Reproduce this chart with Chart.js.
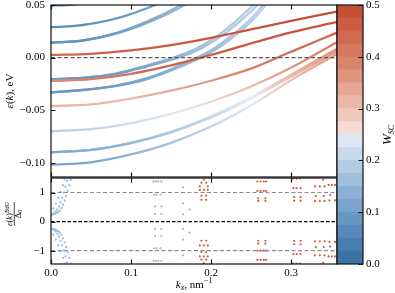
<!DOCTYPE html>
<html><head><meta charset="utf-8">
<script src="https://cdn.jsdelivr.net/npm/chart.js@4.4.1/dist/chart.umd.min.js"></script>
<style>
html,body{margin:0;padding:0;background:#fff;width:395px;height:293px;overflow:hidden}
canvas{position:absolute}
#top{left:0;top:0;width:345px;height:180px}
#bot{left:0;top:170px;width:345px;height:123px}
#cbar{left:330px;top:0;width:65px;height:293px}
</style></head><body>
<canvas id="top" width="345" height="180"></canvas>
<canvas id="bot" width="345" height="123"></canvas>
<canvas id="cbar" width="65" height="293"></canvas>
<script>
// ---------------- data ----------------
const kxRange = [0, 0.3575];
const energyRange = [-0.1135, 0.05];
const bdgRange = [-1.46, 1.5];
const energyTicks = [-0.10, -0.05, 0.00, 0.05];
const kxTicks = [0.0, 0.1, 0.2, 0.3];
const bdgTicks = [-1, 0, 1];
const wscTicks = [0.0, 0.1, 0.2, 0.3, 0.4, 0.5];
const fermiLevel = [0];
const gapLevels = [-1, 1];

// slowly dispersing (superconductor-like) bands on a common kx grid
const kGrid   = [0, 0.05, 0.10, 0.15, 0.20, 0.25, 0.30, 0.3575];
const bandD_E = [0.0026, 0.0036, 0.0068, 0.0118, 0.0188, 0.0268, 0.0348, 0.0438];
const bandD_W = [0.43, 0.45, 0.46, 0.47, 0.48, 0.48, 0.49, 0.49];
const bandE_E = [-0.0222, -0.0205, -0.0155, -0.0075, 0.0025, 0.0135, 0.0240, 0.0340];
const bandE_W = [0.37, 0.40, 0.43, 0.45, 0.46, 0.47, 0.48, 0.48];
const bandF_E = [-0.0460, -0.0445, -0.0390, -0.0315, -0.0220, -0.0105, 0.0055, 0.0237];
const bandF_W = [0.32, 0.31, 0.31, 0.33, 0.36, 0.40, 0.43, 0.45];
const bandG_E = [-0.0700, -0.0680, -0.0622, -0.0534, -0.0420, -0.0275, -0.0097, 0.0147];
const bandG_W = [0.19, 0.20, 0.22, 0.24, 0.27, 0.31, 0.36, 0.41];
const bandH_E = [-0.0900, -0.0877, -0.0810, -0.0706, -0.0560, -0.0375, -0.0162, 0.0083];
const bandH_W = [0.12, 0.13, 0.15, 0.18, 0.21, 0.25, 0.31, 0.37];
const bandH2_E = [-0.0900, -0.0878, -0.0813, -0.0712, -0.0570, -0.0390, -0.0180, 0.0060];
const bandI_E = [-0.1020, -0.0995, -0.0920, -0.0810, -0.0655, -0.0455, -0.0215, 0.0035];
const bandI_W = [0.11, 0.12, 0.14, 0.17, 0.20, 0.24, 0.30, 0.36];

// steep (semiconductor-like) bands
const bandB0_k = [0, 0.02, 0.04, 0.06];
const bandB0_E = [0.0495, 0.0500, 0.0515, 0.0540];
const bandB0_W = [0.07, 0.07, 0.08, 0.08];
const bandB1_k = [0, 0.03, 0.06, 0.09, 0.12, 0.15];
const bandB1_E = [0.0290, 0.0301, 0.0335, 0.0390, 0.0469, 0.0569];
const bandB1_W = [0.07, 0.07, 0.08, 0.09, 0.10, 0.12];
const bandB2_k = [0, 0.04, 0.08, 0.12, 0.16, 0.20];
const bandB2_E = [0.0141, 0.0162, 0.0225, 0.0330, 0.0470, 0.0650];
const bandB2b_E = [0.0141, 0.0163, 0.0230, 0.0342, 0.0490, 0.0680];
const bandB2_W = [0.08, 0.08, 0.10, 0.12, 0.15, 0.17];
const bandB3_k = [0, 0.04, 0.08, 0.12, 0.15, 0.18, 0.20, 0.22, 0.25, 0.27, 0.285];
const bandB3_E = [-0.0205, -0.0193, -0.0158, -0.0085, -0.0022, 0.0058, 0.0140, 0.0245, 0.0440, 0.0590, 0.0710];
const bandB3b_E = [-0.0205, -0.0192, -0.0154, -0.0076, -0.0008, 0.0078, 0.0165, 0.0275, 0.0480, 0.0640, 0.0760];
const bandB3_W = [0.09, 0.09, 0.10, 0.12, 0.14, 0.16, 0.17, 0.18, 0.19, 0.20, 0.20];
const bandB4_k = [0, 0.04, 0.08, 0.12, 0.16, 0.20, 0.23, 0.255, 0.275, 0.29];
const bandB4_E = [-0.0330, -0.0308, -0.0272, -0.0205, -0.0092, 0.0050, 0.0210, 0.0380, 0.0560, 0.0700];
const bandB4b_E = [-0.0330, -0.0307, -0.0268, -0.0196, -0.0078, 0.0070, 0.0235, 0.0410, 0.0600, 0.0740];
const bandB4_W = [0.09, 0.09, 0.10, 0.12, 0.14, 0.16, 0.18, 0.19, 0.20, 0.20];

// BdG spectrum points (lower panel)
const bdgBlueK = [
 0.001,0.003,0.005,0.007,0.009,0.011,0.013,0.015,0.017,0.019,0.021,0.023,0.025,
 0.002,0.004,0.006,0.008,0.010,0.012,0.014,0.016,0.018,0.020,
 0.003,0.006,0.009,0.012,0.015,0.017,
 0.001,0.003,0.005,0.007,0.009,0.011,0.013,0.015,0.017,0.019,0.021,0.023,0.025,
 0.002,0.004,0.006,0.008,0.010,0.012,0.014,0.016,0.018,0.020,
 0.003,0.006,0.009,0.012,0.015,0.017,
 0.128,0.131,0.134,0.138, 0.129,0.132,0.137, 0.130,0.138, 0.130,0.138,
 0.130,0.138, 0.130,0.138, 0.129,0.132,0.137, 0.128,0.131,0.134,0.138,
 0.165,0.165,0.173,0.165, 0.165,0.173,0.165,0.165
];
const bdgBlueV = [
 0.24,0.25,0.27,0.30,0.33,0.38,0.46,0.58,0.72,0.88,1.06,1.25,1.44,
 0.26,0.29,0.34,0.42,0.52,0.66,0.82,1.00,1.20,1.40,
 0.45,0.62,0.82,1.02,1.25,1.45,
 -0.24,-0.25,-0.27,-0.30,-0.33,-0.38,-0.46,-0.58,-0.72,-0.88,-1.06,-1.25,-1.44,
 -0.26,-0.29,-0.34,-0.42,-0.52,-0.66,-0.82,-1.00,-1.20,-1.40,
 -0.45,-0.62,-0.82,-1.02,-1.25,-1.45,
 1.38,1.38,1.38,1.38, 0.93,0.93,0.93, 0.52,0.52, 0.26,0.26,
 -0.25,-0.25, -0.50,-0.50, -0.92,-0.92,-0.92, -1.35,-1.35,-1.35,-1.35,
 1.18,0.63,0.41,0.25, -0.25,-0.38,-0.62,-1.16
];
const bdgRedK = [
 0.191,0.188,0.194,0.186,0.196,0.186,0.191,0.196,0.188,0.194,0.188,0.194,
 0.188,0.194,0.186,0.191,0.196,0.188,0.194,0.186,0.191,0.196,0.188,0.194,0.191,
 0.258,0.262,0.266,0.269,0.258,0.262,0.266,0.269,0.259,0.268,0.259,0.268,
 0.259,0.268,0.259,0.268,0.258,0.262,0.266,0.269,0.258,0.262,0.266,0.269,
 0.303,0.307,0.311,0.303,0.307,0.312,0.304,0.312,0.304,0.312,
 0.304,0.312,0.304,0.312,0.303,0.307,0.312,0.303,0.307,0.311,
 0.340,0.330,0.336,0.342,0.331,0.341,0.330,0.336,0.342,
 0.330,0.336,0.342,0.331,0.341,0.330,0.336,0.342,0.340,
 0.347,0.351,0.355,0.349,0.348,0.355,
 0.348,0.355,0.349,0.347,0.351,0.355
];
const bdgRedV = [
 1.44,1.34,1.34,1.21,1.21,1.09,1.09,1.09,0.89,0.89,0.75,0.75,
 -0.66,-0.66,-0.82,-0.82,-0.82,-1.05,-1.05,-1.20,-1.20,-1.20,-1.31,-1.31,-1.43,
 1.38,1.38,1.38,1.38,1.05,1.05,1.05,1.05,0.80,0.80,0.71,0.71,
 -0.66,-0.66,-0.76,-0.76,-1.00,-1.00,-1.00,-1.00,-1.32,-1.32,-1.32,-1.32,
 1.48,1.48,1.48,1.15,1.15,1.15,0.85,0.85,0.72,0.72,
 -0.66,-0.66,-0.78,-0.78,-1.12,-1.12,-1.12,-1.45,-1.45,-1.45,
 1.44,1.21,1.21,1.21,0.88,0.88,0.71,0.71,0.71,
 -0.68,-0.68,-0.68,-0.88,-0.88,-1.16,-1.16,-1.16,-1.42,
 1.26,1.26,1.26,0.92,0.73,0.73,
 -0.70,-0.70,-0.86,-1.20,-1.20,-1.20
];
const bdgBlueW = 0.16;
const bdgRedW = 0.46;

// ---------------- colormap (W_SC) ----------------
const cmapStops = [
 [0.00,[56,108,160]],[0.05,[80,131,180]],[0.10,[112,157,200]],[0.15,[150,184,216]],
 [0.20,[190,211,230]],[0.25,[232,238,244]],[0.255,[245,226,220]],[0.30,[236,192,178]],
 [0.35,[226,157,137]],[0.40,[215,124,101]],[0.45,[205,99,73]],[0.50,[194,74,48]]
];
function cmap(w){
  w = Math.max(0, Math.min(0.5, w));
  for (let i=0;i<cmapStops.length-1;i++){
    const [a,ca]=cmapStops[i],[b,cb]=cmapStops[i+1];
    if (w<=b){const t=(w-a)/(b-a);const c=ca.map((v,j)=>Math.round(v+(cb[j]-v)*t));return `rgb(${c[0]},${c[1]},${c[2]})`;}
  }
  const c=cmapStops[cmapStops.length-1][1];return `rgb(${c[0]},${c[1]},${c[2]})`;
}

const SERIF = '"Liberation Serif", "DejaVu Serif", serif';
Chart.defaults.font.family = SERIF;
Chart.defaults.font.size = 11;
Chart.defaults.color = '#000';

function fmtMinus(s){ return s.replace('-', '\u2212'); }
function noPad(s){ s.paddingTop=0; s.paddingBottom=0; s.paddingLeft=0; s.paddingRight=0; }

function bandDataset(ks, Es, Ws){
  return {
    type:'line',
    data: ks.map((k,i)=>({x:k, y:Es[i]})),
    borderWidth: 2.3,
    pointRadius: 0,
    cubicInterpolationMode: 'monotone',
    borderColor: cmap(Ws[0]),
    segment: {
      borderColor: (ctx)=>{
        const c0 = cmap(Ws[ctx.p0DataIndex]), c1 = cmap(Ws[ctx.p1DataIndex]);
        const g = ctx.chart.ctx.createLinearGradient(ctx.p0.x, ctx.p0.y, ctx.p1.x, ctx.p1.y);
        g.addColorStop(0, c0); g.addColorStop(1, c1);
        return g;
      }
    }
  };
}
function levelDataset(level, color, dash, width){
  return {type:'line', data: kxRange.map(k=>({x:k, y:level})), borderColor:color, borderDash:dash,
          borderWidth:width, pointRadius:0, order:-1};
}

// ---------------- plugins ----------------
const frameTicks = {
  id:'frameTicks',
  afterDatasetsDraw(chart, args, opts){
    const {ctx, chartArea:a} = chart;
    ctx.save();
    ctx.strokeStyle = '#111'; ctx.lineWidth = 1.2;
    ctx.strokeRect(a.left, a.top, a.right-a.left, a.bottom-a.top);
    const L = 4.5;
    ctx.beginPath();
    (opts.x||[]).forEach(v=>{
      const px = Math.round(chart.scales.x.getPixelForValue(v))+0.5;
      ctx.moveTo(px,a.bottom); ctx.lineTo(px,a.bottom-L);
      ctx.moveTo(px,a.top); ctx.lineTo(px,a.top+L);
    });
    (opts.y||[]).forEach(v=>{
      const py = Math.round(chart.scales.y.getPixelForValue(v))+0.5;
      if (opts.side==='right'){ ctx.moveTo(a.right,py); ctx.lineTo(a.right-L,py); }
      else { ctx.moveTo(a.left,py); ctx.lineTo(a.left+L,py); }
    });
    ctx.stroke();
    ctx.restore();
  }
};
function drawRuns(ctx, runs, x, y, rotate){
  ctx.save(); ctx.translate(x,y); if (rotate) ctx.rotate(-Math.PI/2);
  ctx.fillStyle='#000'; ctx.textBaseline='alphabetic'; ctx.textAlign='left';
  let total=0; runs.forEach(r=>{ctx.font=r.f; r.w=ctx.measureText(r.t).width; total+=r.w;});
  let cx=-total/2;
  runs.forEach(r=>{ctx.font=r.f; ctx.fillText(r.t, cx, r.dy||0); cx+=r.w;});
  ctx.restore();
  return total;
}
const I = (s)=>`italic ${s}px ${SERIF}`, R = (s)=>`${s}px ${SERIF}`;
const titles = {
  id:'titles',
  afterDraw(chart, args, opts){
    const ctx = chart.ctx;
    if (opts.which==='top'){
      drawRuns(ctx,[{t:'\u03B5',f:I(11)},{t:'(',f:R(11)},{t:'k',f:I(11)},{t:'), eV',f:R(11)}], 12.5, 91, true);
    } else if (opts.which==='bot'){
      const cy = 44;
      const wNum = drawRuns(ctx,[{t:'\u03B5',f:I(8.5)},{t:'(',f:R(8.5)},{t:'k',f:I(8.5)},{t:')',f:R(8.5)},{t:'BdG',f:I(6),dy:-3.5}], 12.3, cy, true);
      drawRuns(ctx,[{t:'\u0394',f:R(8.5)},{t:'0',f:R(6),dy:1.5}], 20.5, cy, true);
      ctx.save(); ctx.strokeStyle='#000'; ctx.lineWidth=0.7; ctx.beginPath();
      ctx.moveTo(14.3, cy-wNum/2); ctx.lineTo(14.3, cy+wNum/2); ctx.stroke(); ctx.restore();
      drawRuns(ctx,[{t:'k',f:I(11)},{t:'x',f:I(8),dy:2.5},{t:', nm',f:R(11)},{t:'\u22121',f:R(8),dy:-5}], 194, 117.5, false);
    } else if (opts.which==='cbar'){
      drawRuns(ctx,[{t:'W',f:I(13)},{t:'SC',f:I(8),dy:2.5}], 61, 135, true);
    }
  }
};

// ---------------- top panel ----------------
const topDatasets = [
  levelDataset(fermiLevel[0], 'rgba(80,80,80,0.95)', [4,2.5], 1.4),
  bandDataset(kGrid, bandD_E, bandD_W),
  bandDataset(kGrid, bandE_E, bandE_W),
  bandDataset(kGrid, bandF_E, bandF_W),
  bandDataset(kGrid, bandG_E, bandG_W),
  bandDataset(kGrid, bandH_E, bandH_W),
  bandDataset(kGrid, bandH2_E, bandH_W),
  bandDataset(kGrid, bandI_E, bandI_W),
  bandDataset(bandB0_k, bandB0_E, bandB0_W),
  bandDataset(bandB1_k, bandB1_E, bandB1_W),
  bandDataset(bandB2_k, bandB2_E, bandB2_W),
  bandDataset(bandB2_k, bandB2b_E, bandB2_W),
  bandDataset(bandB3_k, bandB3_E, bandB3_W),
  bandDataset(bandB3_k, bandB3b_E, bandB3_W),
  bandDataset(bandB4_k, bandB4_E, bandB4_W),
  bandDataset(bandB4_k, bandB4b_E, bandB4_W)
];
new Chart(document.getElementById('top'), {
  type:'line',
  data:{datasets: topDatasets},
  plugins:[frameTicks, titles],
  options:{
    responsive:false, animation:false, devicePixelRatio:1,
    layout:{padding:{left:0,right:8,top:5,bottom:3}},
    plugins:{legend:{display:false}, tooltip:{enabled:false},
      frameTicks:{x:kxTicks, y:energyTicks}, titles:{which:'top'}},
    scales:{
      x:{type:'linear', display:false, min:kxRange[0], max:kxRange[1]},
      y:{type:'linear', min:energyRange[0], max:energyRange[1],
        afterFit:s=>{s.width=51; noPad(s);},
        afterBuildTicks:s=>{s.ticks=energyTicks.map(v=>({value:v}));},
        grid:{display:false, drawTicks:false}, border:{display:false},
        ticks:{padding:6, callback:v=>fmtMinus(v.toFixed(2))}}
    }
  }
});

// ---------------- bottom panel ----------------
const bluePts = bdgBlueK.map((k,i)=>({x:k, y:bdgBlueV[i]}));
const redPts = bdgRedK.map((k,i)=>({x:k, y:bdgRedV[i]}));
new Chart(document.getElementById('bot'), {
  type:'scatter',
  data:{datasets:[
    levelDataset(0, '#000', [3.5,2], 1.3),
    levelDataset(gapLevels[0], '#8c8c8c', [4,2.5], 1.1),
    levelDataset(gapLevels[1], '#8c8c8c', [4,2.5], 1.1),
    {type:'scatter', data: redPts, pointRadius:1.1, borderWidth:0, backgroundColor: cmap(bdgRedW)},
    {type:'scatter', data: bluePts, pointRadius:1.15, borderWidth:0, backgroundColor: cmap(bdgBlueW)}
  ]},
  plugins:[frameTicks, titles],
  options:{
    responsive:false, animation:false, devicePixelRatio:1,
    layout:{padding:{left:0,right:8,top:8,bottom:0}},
    plugins:{legend:{display:false}, tooltip:{enabled:false},
      frameTicks:{x:kxTicks, y:bdgTicks}, titles:{which:'bot'}},
    scales:{
      x:{type:'linear', min:kxRange[0], max:kxRange[1],
        afterFit:s=>{s.height=29; noPad(s);},
        afterBuildTicks:s=>{s.ticks=kxTicks.map(v=>({value:v}));},
        grid:{display:false, drawTicks:false}, border:{display:false},
        ticks:{padding:3, maxRotation:0, callback:v=>v.toFixed(1)}},
      y:{type:'linear', min:bdgRange[0], max:bdgRange[1],
        afterFit:s=>{s.width=51; noPad(s);},
        afterBuildTicks:s=>{s.ticks=bdgTicks.map(v=>({value:v}));},
        grid:{display:false, drawTicks:false}, border:{display:false},
        ticks:{padding:6, callback:v=>fmtMinus(String(v))}}
    }
  }
});

// ---------------- colorbar ----------------
const nLevels = 20;
const cbarDatasets = [];
for (let i=0;i<nLevels;i++){
  const w0 = wscTicks[0] + (wscTicks[wscTicks.length-1]-wscTicks[0])*i/nLevels;
  const dw = (wscTicks[wscTicks.length-1]-wscTicks[0])/nLevels;
  cbarDatasets.push({data:[dw], backgroundColor: cmap(w0+dw/2), borderWidth:0,
    barPercentage:1, categoryPercentage:1});
}
new Chart(document.getElementById('cbar'), {
  type:'bar',
  data:{labels:['W'], datasets: cbarDatasets},
  plugins:[frameTicks, titles],
  options:{
    responsive:false, animation:false, devicePixelRatio:1,
    layout:{padding:{left:7,right:0,top:5,bottom:29}},
    plugins:{legend:{display:false}, tooltip:{enabled:false},
      frameTicks:{y:wscTicks, side:'right'}, titles:{which:'cbar'}},
    scales:{
      x:{display:false, stacked:true},
      y:{stacked:true, position:'right', min:wscTicks[0], max:wscTicks[wscTicks.length-1],
        afterFit:s=>{s.width=32; noPad(s);},
        afterBuildTicks:s=>{s.ticks=wscTicks.map(v=>({value:v}));},
        grid:{display:false, drawTicks:false}, border:{display:false},
        ticks:{padding:3, callback:v=>v.toFixed(1)}}
    }
  }
});
</script>
</body></html>
